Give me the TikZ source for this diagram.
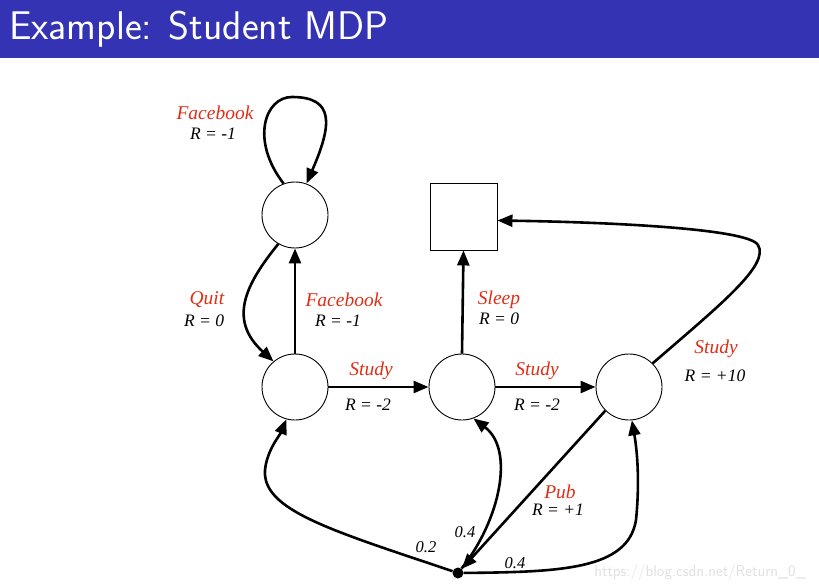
\documentclass[tikz,border=0pt]{standalone}
\usepackage{fontspec}
\usetikzlibrary{arrows.meta}
\newfontfamily\tms{Liberation Serif}
\definecolor{titleblue}{RGB}{51,51,179}
\definecolor{actred}{RGB}{225,45,20}
\begin{document}
\begin{tikzpicture}[x=1pt,y=-1pt,
  st/.style={circle,draw,line width=0.9pt,minimum size=66pt,inner sep=0pt},
  term/.style={rectangle,draw,line width=0.9pt,minimum size=67pt,inner sep=0pt},
  arr/.style={line width=2.6pt,-{Triangle[length=15pt,width=12pt]}},
  act/.style={font=\tms\itshape\fontsize{19.5}{19.5}\selectfont,text=actred,inner sep=0pt},
  rew/.style={font=\tms\itshape\fontsize{17.5}{17.5}\selectfont,inner sep=0pt},
  prob/.style={font=\tms\itshape\fontsize{16.5}{16.5}\selectfont,inner sep=0pt}]
\useasboundingbox (0,0) rectangle (819,588);
\fill[titleblue] (0,0) rectangle (819,58);
\node[anchor=west,text=white,font=\sffamily\fontsize{40}{40}\selectfont,inner sep=0pt] (title) at (9,29) {Example: Student MDP};
% states
\node[st] (fb) at (295,215) {};
\node[st] (c1) at (295,387) {};
\node[st] (c2) at (462,387) {};
\node[st] (c3) at (629,387) {};
\node[term] (sleep) at (463.5,216.5) {};
\node[circle,fill,inner sep=0pt,minimum size=11pt] (pub) at (458,573) {};
% edges
\draw[arr] (fb.110) .. controls (250,140) and (265,97) .. (292,97) .. controls (335,97) and (332,125) .. (fb.70);
\draw[arr] (fb.240) .. controls (245,285) and (228,320) .. (c1.130);
\draw[arr] (c1.north) -- (fb.south);
\draw[arr] (c1.east) -- (c2.west);
\draw[arr] (c2.east) -- (c3.west);
\draw[arr] (c2.north) -- (sleep.south);
\draw[arr] (c3.45) .. controls (720,305) and (770,265) .. (758,245) .. controls (748,228) and (600,222) .. ([yshift=-4pt]sleep.east);
\draw[arr] (c3.225) -- (pub);
\draw[arr] (pub) .. controls (330,530) and (262,510) .. (265,470) .. controls (267,450) and (280,435) .. (c1.255);
\draw[arr] (pub) .. controls (500,520) and (515,450) .. (c2.290);
\draw[arr] (pub) .. controls (560,572) and (628,570) .. (636,520) .. controls (640,480) and (637,450) .. (c3.275);
% labels
\node[act] (l1) at (215,113) {Facebook};
\node[rew] (r1) at (213,134) {R = -1};
\node[act] (l2) at (207,300) {Quit};
\node[rew] (r2) at (204,321) {R = 0};
\node[act] (l3) at (344,300) {Facebook};
\node[rew] (r3) at (338,321) {R = -1};
\node[act] (l4) at (371,371) {Study};
\node[rew] (r4) at (368,405) {R = -2};
\node[act] (l5) at (499,300) {Sleep};
\node[rew] (r5) at (499,319) {R = 0};
\node[act] (l6) at (537,371) {Study};
\node[rew] (r6) at (537,405) {R = -2};
\node[act] (l7) at (716,349) {Study};
\node[rew] (r7) at (715,376) {R = +10};
\node[act] (l8) at (560,492) {Pub};
\node[rew] (r8) at (558,510) {R = +1};
\node[prob] (p1) at (426,547) {0.2};
\node[prob] (p2) at (465,532) {0.4};
\node[prob] (p3) at (515,563) {0.4};
\node[text=black!12,font=\sffamily\fontsize{16}{16}\selectfont,inner sep=0pt] (wm) at (700,572) {https://blog.csdn.net/Return\_0\_};
\end{tikzpicture}
\end{document}
